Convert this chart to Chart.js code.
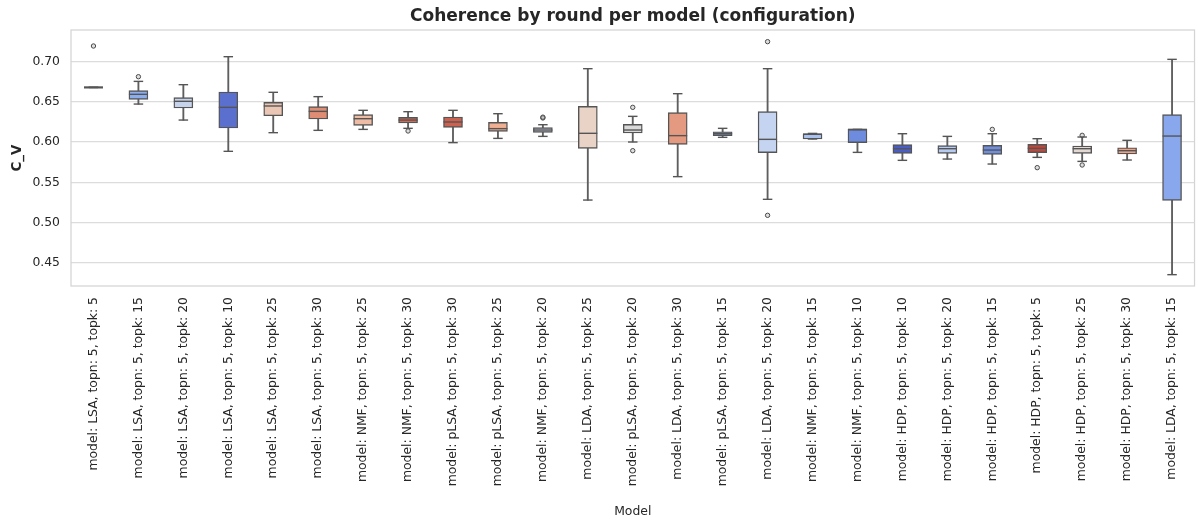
<!DOCTYPE html>
<html>
<head>
<meta charset="utf-8">
<script src="https://cdn.jsdelivr.net/npm/chart.js@4"></script>
<style>
  html, body { margin: 0; padding: 0; background: #ffffff; }
  #wrap { width: 1198px; height: 525px; }
</style>
</head>
<body>
<div id="wrap"><canvas id="c" width="1198" height="525"></canvas></div>
<script>
// ---- data ----
const labels = [
  "model: LSA, topn: 5, topk: 5",
  "model: LSA, topn: 5, topk: 15",
  "model: LSA, topn: 5, topk: 20",
  "model: LSA, topn: 5, topk: 10",
  "model: LSA, topn: 5, topk: 25",
  "model: LSA, topn: 5, topk: 30",
  "model: NMF, topn: 5, topk: 25",
  "model: NMF, topn: 5, topk: 30",
  "model: pLSA, topn: 5, topk: 30",
  "model: pLSA, topn: 5, topk: 25",
  "model: NMF, topn: 5, topk: 20",
  "model: LDA, topn: 5, topk: 25",
  "model: pLSA, topn: 5, topk: 20",
  "model: LDA, topn: 5, topk: 30",
  "model: pLSA, topn: 5, topk: 15",
  "model: LDA, topn: 5, topk: 20",
  "model: NMF, topn: 5, topk: 15",
  "model: NMF, topn: 5, topk: 10",
  "model: HDP, topn: 5, topk: 10",
  "model: HDP, topn: 5, topk: 20",
  "model: HDP, topn: 5, topk: 15",
  "model: HDP, topn: 5, topk: 5",
  "model: HDP, topn: 5, topk: 25",
  "model: HDP, topn: 5, topk: 30",
  "model: LDA, topn: 5, topk: 15"
];
const whiskerLow = [0.6680,0.6473,0.6274,0.5885,0.6117,0.6146,0.6158,0.6171,0.5993,0.6046,0.6071,0.5279,0.6001,0.5570,0.6059,0.5288,0.6038,0.5872,0.5773,0.5789,0.5727,0.5810,0.5760,0.5777,0.4351];
const q1         = [0.6680,0.6531,0.6424,0.6175,0.6328,0.6287,0.6208,0.6237,0.6183,0.6133,0.6121,0.5922,0.6113,0.5972,0.6080,0.5868,0.6038,0.5993,0.5860,0.5860,0.5847,0.5868,0.5860,0.5852,0.5275];
const median     = [0.6680,0.6594,0.6507,0.6432,0.6449,0.6382,0.6291,0.6274,0.6250,0.6167,0.6150,0.6109,0.6150,0.6080,0.6104,0.6034,0.6100,0.6158,0.5918,0.5918,0.5901,0.5922,0.5918,0.5893,0.6075];
const q3         = [0.6680,0.6639,0.6552,0.6623,0.6494,0.6440,0.6341,0.6308,0.6312,0.6245,0.6179,0.6444,0.6221,0.6366,0.6129,0.6378,0.6100,0.6158,0.5968,0.5955,0.5959,0.5972,0.5951,0.5930,0.6341];
const whiskerHigh= [0.6680,0.6755,0.6714,0.7062,0.6619,0.6565,0.6395,0.6378,0.6395,0.6353,0.6216,0.6913,0.6320,0.6602,0.6171,0.6913,0.6108,0.6158,0.6104,0.6071,0.6104,0.6042,0.6063,0.6022,0.7029];
const outliers = [
  [0.7195],[0.6813],[],[],[],[],[],[0.6138],[],[],[0.6300,0.6310],[],
  [0.6432,0.5893],[],[],[0.7249,0.5089],[],[],[],[],[0.6158],[0.5682],[0.6084,0.5715],[],[]
];
const boxColors = [
  "#8caeee","#8caeee","#c6d3ea","#5b6fcf","#ebc6b4","#de8c74","#eebca4","#d26b56",
  "#cc6150","#eeaf92","#c8d0e2","#e9d2c6","#dadada","#e49a80","#8fadec","#c4d4f1",
  "#a9c2f0","#6d8ce0","#4a5dc5","#b6cbf1","#6f8ee0","#c2473b","#e4d8d2","#eea286","#89a7ec"
];
const yTicks = { min: 0.421, max: 0.7394, step: 0.05 };

// ---- styling ----
const FONT = "DejaVu Sans";
const TEXT = "#262626";
const LINE = "#555555";
const LW = 1.4;
const BOX_W = 19;
const CAP_W = 9.5;

const boxData = labels.map((_, i) => [q1[i], q3[i]]);
const whiskerData = labels.map((_, i) => [whiskerLow[i], whiskerHigh[i]]);
const outlierData = [];
outliers.forEach((arr, i) => arr.forEach(v => outlierData.push({ x: labels[i], y: v })));

const boxExtras = {
  id: 'boxExtras',
  beforeDatasetsDraw(chart) {
    const { ctx, chartArea: a } = chart;
    ctx.save();
    ctx.strokeStyle = "#d4d4d4";
    ctx.lineWidth = 1.25;
    ctx.strokeRect(a.left, a.top, a.right - a.left, a.bottom - a.top);
    ctx.restore();
  },
  afterDatasetsDraw(chart) {
    const { ctx, scales: { x, y } } = chart;
    ctx.save();
    ctx.strokeStyle = LINE;
    labels.forEach((_, i) => {
      const cx = x.getPixelForValue(i);
      const seg = (x0, x1, yy, w) => { ctx.lineWidth = w; ctx.beginPath(); ctx.moveTo(x0, yy); ctx.lineTo(x1, yy); ctx.stroke(); };
      const flat = q1[i] === q3[i];
      seg(cx - BOX_W / 2, cx + BOX_W / 2, y.getPixelForValue(median[i]), flat ? 2.2 : LW);
      seg(cx - CAP_W / 2, cx + CAP_W / 2, y.getPixelForValue(whiskerLow[i]), LW);
      seg(cx - CAP_W / 2, cx + CAP_W / 2, y.getPixelForValue(whiskerHigh[i]), LW);
    });
    ctx.restore();
  }
};

new Chart(document.getElementById('c'), {
  type: 'bar',
  data: {
    labels: labels,
    datasets: [
      {
        label: 'outliers', type: 'line', data: outlierData, showLine: false, order: 0,
        pointRadius: 2.2, pointBorderWidth: 1, pointBorderColor: "#4a4a4a",
        pointBackgroundColor: "rgba(160,160,160,0.35)", pointHoverRadius: 2.2
      },
      {
        label: 'box', data: boxData, order: 1, grouped: false, barThickness: BOX_W,
        backgroundColor: boxColors, borderColor: LINE, borderWidth: LW, borderSkipped: false
      },
      {
        label: 'whisker', data: whiskerData, order: 2, grouped: false, barThickness: 1.2,
        backgroundColor: "#5e5e5e", borderWidth: 0
      }
    ]
  },
  options: {
    responsive: false,
    animation: false,
    devicePixelRatio: 1,
    layout: { padding: { left: 0, right: 1, top: 0, bottom: 0 } },
    plugins: {
      legend: { display: false },
      tooltip: { enabled: false },
      title: {
        display: true, fullSize: false,
        text: "Coherence by round per model (configuration)",
        color: TEXT, font: { family: FONT, size: 17, weight: 'bold', lineHeight: 1.2 },
        padding: { top: 6.3, bottom: 3.3 }
      }
    },
    scales: {
      x: {
        type: 'category',
        offset: true,
        grid: { display: false, drawTicks: false },
        border: { display: false },
        ticks: {
          color: TEXT, font: { family: FONT, size: 12.4 },
          minRotation: 90, maxRotation: 90, autoSkip: false, padding: 11
        },
        title: {
          display: true, text: "Model", color: TEXT,
          font: { family: FONT, size: 12.4, lineHeight: 1.2 },
          padding: { top: 0, bottom: 5.5 }
        },
        afterFit(scale) { scale.height = 239; }
      },
      y: {
        type: 'linear',
        min: yTicks.min, max: yTicks.max,
        grid: { color: "#dcdcdc", lineWidth: 1.2, drawTicks: false },
        border: { display: false },
        ticks: {
          stepSize: yTicks.step, includeBounds: false, padding: 11,
          color: TEXT, font: { family: FONT, size: 12.4 },
          callback: v => Number(v).toFixed(2)
        },
        title: {
          display: true, text: "C_V", color: TEXT,
          font: { family: FONT, size: 13.5, weight: 'bold', lineHeight: 1.2 },
          padding: { top: 9, bottom: 0 }
        },
        afterFit(scale) { scale.width = 71; }
      }
    }
  },
  plugins: [boxExtras]
});
</script>
</body>
</html>
